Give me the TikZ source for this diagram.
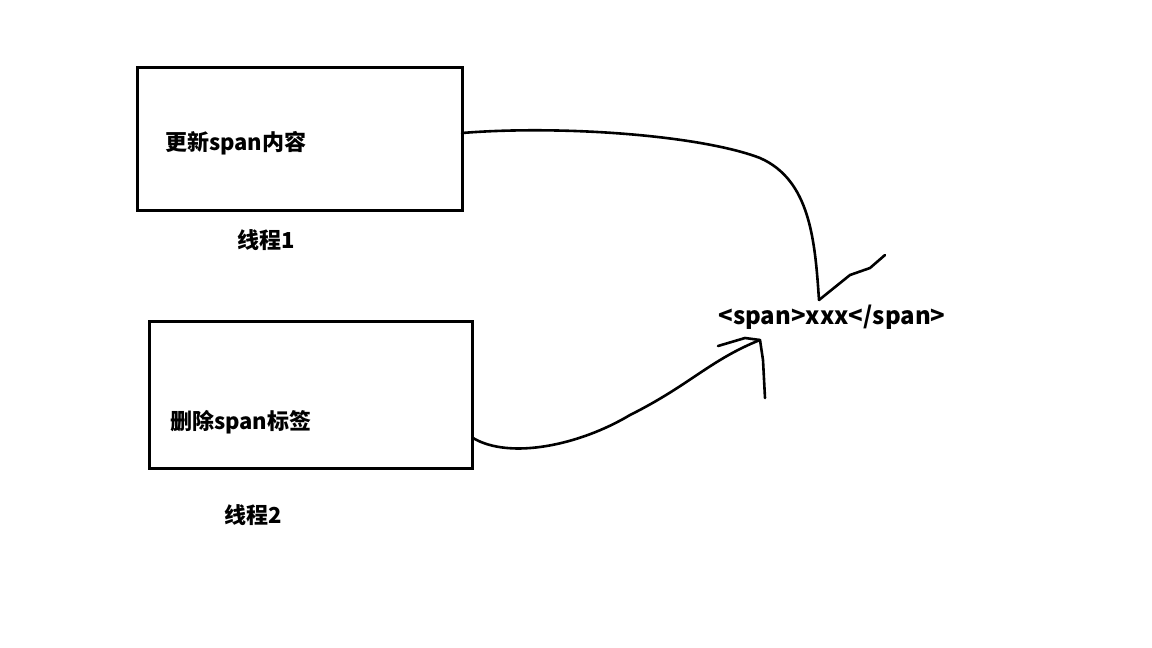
\documentclass[tikz,border=0pt]{standalone}
\usepackage{fontspec}
\setmainfont{Noto Sans CJK SC}
\newfontfamily\cjk{Noto Sans CJK SC}
\begin{document}
\begin{tikzpicture}[x=1pt,y=-1pt,
  box/.style={draw,line width=3pt},
  lbl/.style={font=\cjk\bfseries\fontsize{22}{24}\selectfont,inner sep=0pt},
  pen/.style={line width=2.6pt,line cap=round,line join=round}]
\useasboundingbox (0,0) rectangle (1152,648);
\draw[box] (137,67) rectangle (462,210);
\draw[box] (149,321) rectangle (472,468);
\node[lbl,anchor=west] (t1) at (165,143) {更新span内容};
\node[lbl,anchor=west] (t2) at (170,422) {删除span标签};
\node[lbl] (l1) at (266,240) {线程1};
\node[lbl] (l2) at (253,515) {线程2};
\node[lbl,font=\cjk\bfseries\fontsize{24}{26}\selectfont] (sp) at (832,317) {<span>xxx</span>};
\coordinate (a1) at (462,133);
\coordinate (h1) at (819,300);
\coordinate (a2) at (473,438);
\coordinate (h2) at (760,340);
\draw[pen] (a1) .. controls (560,125) and (700,135) .. (760,158) .. controls (810,180) and (815,240) .. (h1);
\draw[pen] (h1) -- (850,275) -- (870,268) -- (885,255);
\draw[pen] (a2) .. controls (510,460) and (580,445) .. (630,415) .. controls (690,385) and (710,360) .. (h2);
\draw[pen] (718,346) -- (745,338) -- (h2) -- (763,360) -- (765,398);
\end{tikzpicture}
\end{document}
